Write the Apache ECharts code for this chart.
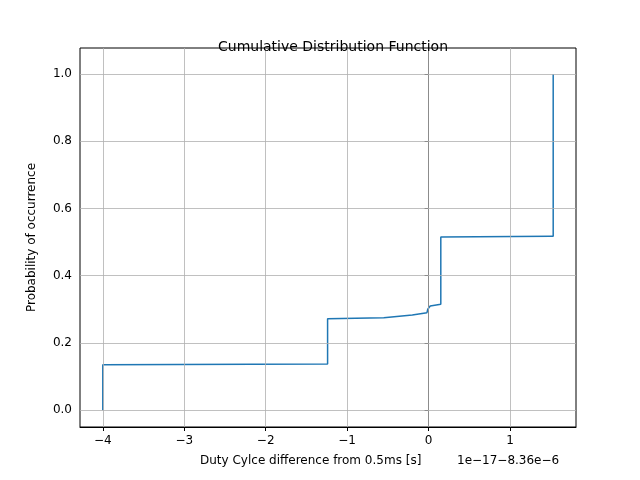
<!DOCTYPE html>
<html>
<head>
<meta charset="utf-8" />
<script src="https://cdn.jsdelivr.net/npm/echarts@6/dist/echarts.min.js"></script>
</head>
<body style="margin:0">
<div id="chart" style="width:640px;height:480px;"></div>
<script>
// step CDF points (x in units of 1e-17, offset -8.36e-6)
var xs = [-4.0, -4.0, -1.24, -1.24, -0.55, -0.55, -0.20, -0.20, -0.02, -0.01, 0.0, 0.02, 0.15, 0.15, 1.50, 1.53, 1.53];
var ys = [0.0, 0.135, 0.137, 0.272, 0.275, 0.280, 0.283, 0.287, 0.29, 0.30, 0.305, 0.31, 0.315, 0.515, 0.517, 0.517, 1.0];
var xTicks = [-4, -3, -2, -1, 0, 1];
var yTicks = [0, 0.2, 0.4, 0.6, 0.8, 1.0];

var data = xs.map(function (x, i) { return [x, ys[i]]; });
var chart = echarts.init(document.getElementById('chart'));
var lbl = { color: '#000', fontSize: 12, fontFamily: 'DejaVu Sans' };
var gridLine = { color: '#b0b0b0', width: 0.8, type: 'solid' };
var gridMarks = xTicks.map(function (v) { return { xAxis: v }; })
  .concat(yTicks.map(function (v) { return { yAxis: v }; }));

chart.setOption({
  animation: false,
  backgroundColor: '#fff',
  title: { text: 'Cumulative Distribution Function', left: 328, top: 35, textAlign: 'center',
    textStyle: { fontSize: 14, fontWeight: 'normal', fontFamily: 'DejaVu Sans', color: '#000' } },
  grid: { left: 80, right: 64, top: 48, bottom: 53, show: true, borderColor: '#000', borderWidth: 1 },
  xAxis: { type: 'value', min: -4.28, max: 1.81,
    axisLine: { show: true, onZero: false, lineStyle: { color: '#000' } },
    axisTick: { show: true, customValues: xTicks, length: 4, lineStyle: { color: '#000' } },
    axisLabel: Object.assign({ customValues: xTicks, formatter: function (v) { return String(v).replace('-', '\u2212'); } }, lbl),
    splitLine: { show: false } },
  yAxis: { type: 'value', min: -0.05, max: 1.077,
    name: 'Probability of occurrence', nameLocation: 'middle', nameGap: 42,
    nameTextStyle: { fontSize: 12, fontFamily: 'DejaVu Sans', color: '#000' },
    axisLine: { show: true, lineStyle: { color: '#000' } },
    axisTick: { show: true, customValues: yTicks, length: 4, lineStyle: { color: '#000' } },
    axisLabel: Object.assign({ customValues: yTicks, formatter: function (v) { return v.toFixed(1); } }, lbl),
    splitLine: { show: false } },
  graphic: [
    { type: 'text', left: 200, top: 455, style: { text: 'Duty Cylce difference from 0.5ms [s]', fontSize: 12, fontFamily: 'DejaVu Sans', fill: '#000' } },
    { type: 'text', left: 457, top: 455, style: { text: '1e\u221217\u22128.36e\u22126', fontSize: 12, fontFamily: 'DejaVu Sans', fill: '#000' } }
  ],
  series: [
    { type: 'line', data: [], markLine: { silent: true, symbol: 'none', label: { show: false }, lineStyle: gridLine, data: gridMarks } },
    { type: 'line', data: data, showSymbol: false, lineStyle: { color: '#1f77b4', width: 1.5 } }
  ]
});
</script>
</body>
</html>
